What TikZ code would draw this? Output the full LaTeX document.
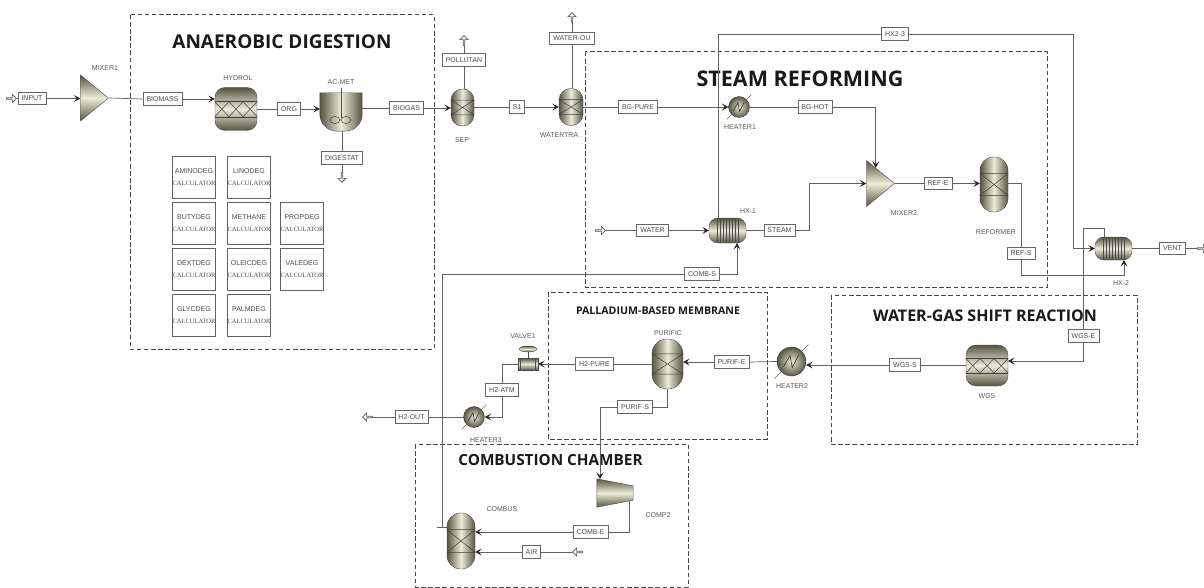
\documentclass[tikz,border=0pt]{standalone}
\usepackage{fontspec}
\setmainfont{Liberation Sans}
\newfontfamily\titlefont{Open Sans}
\newfontfamily\calcfont{Liberation Serif}
\usetikzlibrary{arrows.meta, positioning, calc, shapes.geometric, shapes.arrows}
\definecolor{olivedark}{RGB}{84,84,64}
\definecolor{olivelight}{RGB}{236,236,216}
\tikzset{
  stream/.style={draw=black!62,line width=.7pt},
  zonebox/.style={draw=black!72,line width=1pt,dash pattern=on 4.5pt off 2.6pt},
  zonetitle/.style={font=\titlefont\bfseries,text=black!90,inner sep=0pt},
  streamlbl/.style={draw=black!60,fill=white,text=black!70,font=\fontsize{7}{7}\selectfont,
    inner xsep=3.5pt,inner ysep=0pt,minimum height=12.5pt,line width=.7pt},
  tag/.style={text=black!65,font=\fontsize{7}{7}\selectfont,inner sep=0pt},
  calcbox/.style={draw=black!62,minimum width=42pt,minimum height=42pt,inner sep=0pt,align=center,
    text=black!70,font=\fontsize{7}{7}\selectfont,line width=.7pt},
  portarrow/.style={single arrow,draw=black!65,fill=white,minimum height=10pt,minimum width=8pt,
    single arrow head extend=1.5pt,single arrow head indent=0pt,inner sep=0pt,line width=.7pt},
  sideshade/.style={left color=olivedark,right color=olivedark,middle color=olivelight,draw=black!70,inner sep=0pt},
  topshade/.style={top color=olivedark,bottom color=olivedark,middle color=olivelight,draw=black!70,inner sep=0pt},
  crossbed/.style={sideshade},
  zigbed/.style={topshade,rounded corners=10pt},
  tubebundle/.style={topshade,rounded corners=9pt},
  heaterball/.style={circle,inner color=olivelight,outer color=olivedark,draw=black!70,inner sep=0pt},
  mixertri/.style={isosceles triangle,isosceles triangle stretches,topshade,minimum width=46pt,minimum height=28pt},
  valvebody/.style={topshade,minimum width=20pt,minimum height=12pt},
  unitbox/.style={shift={(#1.north west)},x={($(#1.north east)-(#1.north west)$)},
    y={($(#1.south west)-(#1.north west)$)}},
}
\newcommand{\heaterzig}[1]{
  \begin{scope}[shift={(#1.center)},x={($(#1.east)-(#1.center)$)},y={($(#1.south)-(#1.center)$)}]
    \draw[black!80,line width=.6pt] (-.55,.35)--(-.1,-.4)--(.05,.4)--(.5,-.45);
    \draw[black!60,line width=.5pt] (-1.15,1.15)--(-.7,.7) (.7,-.7)--(1.15,-1.15);
  \end{scope}}
\newcommand{\crossmark}[1]{
  \begin{scope}[unitbox=#1]
    \draw[black!75,line width=.5pt] (0,.3)--(1,.3) (0,.7)--(1,.7) (0,.3)--(1,.7) (1,.3)--(0,.7);
  \end{scope}}
\newcommand{\zigmark}[1]{
  \begin{scope}[unitbox=#1]
    \draw[black!75,line width=.5pt] (0,.33)--(1,.33) (0,.68)--(1,.68);
    \foreach \k in {0,1,2}
      \draw[black!75,line width=.5pt] (\k/3,.33)--(\k/3+1/3,.68) (\k/3,.68)--(\k/3+1/3,.33);
  \end{scope}}
\newcommand{\tubemark}[1]{
  \begin{scope}[unitbox=#1]
    \foreach \k in {.22,.3,...,.8}
      \draw[black!70,line width=.4pt] (\k,.06)--(\k,.94);
  \end{scope}}

\begin{document}
\begin{tikzpicture}[x=1pt,y=-1pt,>={Stealth[length=6.5pt,width=7pt,inset=3pt,color=black!85]}]
  \useasboundingbox (0,0) rectangle (1204,588);
  \draw[zonebox] (130,15) rectangle (434,349);
  \draw[zonebox] (585,52) rectangle (1047,287);
  \draw[zonebox] (548,292) rectangle (767,439);
  \draw[zonebox] (831,295) rectangle (1137,444);
  \draw[zonebox] (415,444) rectangle (688,587);
  \node[zonetitle,font=\titlefont\bfseries\fontsize{19}{21}\selectfont] (anaerobic) at (282,42){ANAEROBIC DIGESTION};
  \node[zonetitle,font=\titlefont\bfseries\fontsize{21.5}{23}\selectfont] (steamref) at (800,79){STEAM REFORMING};
  \node[zonetitle,font=\titlefont\bfseries\fontsize{10.6}{12}\selectfont] (palladium) at (658,310.5){PALLADIUM-BASED MEMBRANE};
  \node[zonetitle,font=\titlefont\bfseries\fontsize{16}{18}\selectfont] (watergas) at (985,316){WATER-GAS SHIFT REACTION};
  \node[zonetitle,font=\titlefont\bfseries\fontsize{15.3}{17}\selectfont] (combtitle) at (550.5,460){COMBUSTION CHAMBER};

  \foreach \x/\y/\nm in {194/177/AMINODEG,249/177/LINODEG,194/223/BUTYDEG,249/223/METHANE,302/223/PROPDEG,
    194/269/DEXTDEG,249/269/OLEICDEG,302/269/VALEDEG,194/315/GLYCDEG,249/315/PALMDEG}
    \node[calcbox] (\nm) at (\x,\y){\nm\\[5pt]{\calcfont\fontsize{6.5}{6}\selectfont CALCULATOR}};

  \foreach \x/\y/\nm/\lbl in {32/98.5/inputlbl/INPUT,162.5/99/biomasslbl/BIOMASS,289/109/orglbl/ORG,
    406.5/108/biogaslbl/BIOGAS,342/158/digestlbl/DIGESTAT,464/60/polllbl/POLLUTAN,517/107/sonelbl/S1,
    572/38.5/wateroulbl/WATER-OU,638/107/bgpurelbl/BG-PURE,815/107/bghotlbl/BG-HOT,652.5/230.5/waterlbl/WATER,
    779.5/230.5/steamlbl/STEAM,702/274/combslbl/COMB-S,938/183.5/refelbl/REF-E,1021/253.5/refslbl/REF-S,
    895/34/hxtwolbl/HX2-3,1172.5/248.5/ventlbl/VENT,1083.5/336/wgselbl/WGS-E,905/365/wgsslbl/WGS-S,
    731.5/362/purifelbl/PURIF-E,594.5/364/htwopurelbl/H2-PURE,635/407/purifslbl/PURIF-S,502/390/htwoatmlbl/H2-ATM,
    411.5/417/htwooutlbl/H2-OUT,590.5/532/comblbl/COMB-E,531.5/552/airlbl/AIR}
    \node[streamlbl] (\nm) at (\x,\y){\lbl};

  \foreach \x/\y/\nm/\lbl in {105/68/mixeronetag/MIXER1,238/78/hydroltag/HYDROL,341/82/acmettag/AC-MET,
    462/140/septag/SEP,559/135/watertag/WATERTRA,740/127/heateronetag/HEATER1,748/211/hxonetag/HX-1,
    904/213/mixertwotag/MIXER2,996/232/reformertag/REFORMER,1121/283/hxtwotag/HX-2,987/396/wgstag/WGS,
    792/386/heatertwotag/HEATER2,668/333/purifictag/PURIFIC,523/336/valvetag/VALVE1,486/440/heaterthreetag/HEATER3,
    502/509/combustag/COMBUS,658/515/comptag/COMP2}
    \node[tag] (\nm) at (\x,\y){\lbl};

  \foreach \x/\y/\nm/\rot in {11/98.5/inarrow/0,342/177/digestarrow/270,464/41/pollarrow/90,572/18/wateroutarrow/90,
    600/230.5/waterarrow/0,1202/248.5/ventarrow/0,368/417/htwoarrow/180,578/552/airarrow/180}
    \node[portarrow,shape border rotate=\rot] (\nm) at (\x,\y){};

  \node[mixertri,anchor=apex] (mixer1) at (109,98){};
  \node[mixertri,anchor=apex] (mixer2) at (895,183.5){};
  \node[zigbed,minimum width=42pt,minimum height=43pt] (hydrol) at (236,109){};
  \node[zigbed,minimum width=42pt,minimum height=41pt] (wgs) at (987,365.5){};
  \zigmark{hydrol}
  \zigmark{wgs}
  \node[inner sep=0pt,minimum width=42pt,minimum height=38pt] (acmet) at (341,112){};
  \draw[sideshade] (acmet.north west) -- (acmet.north east) [rounded corners=17pt] -- (acmet.south east) -- (acmet.south west) [sharp corners] -- cycle;
  \draw[black!70,line width=.5pt] (acmet.north) ++(0,-5) -- ++(0,30);
  \draw[black!75,line width=.5pt] (acmet.center) ++(-6,8) ellipse (5pt and 3.5pt) ++(11,0) ellipse (5pt and 3.5pt);
  \node[crossbed,minimum width=23pt,minimum height=37pt,rounded corners=11pt] (sep) at (462.5,107.5){};
  \node[crossbed,minimum width=24pt,minimum height=37pt,rounded corners=11.5pt] (watertra) at (571,107){};
  \node[crossbed,minimum width=28pt,minimum height=55pt,rounded corners=13.5pt] (reformer) at (994,184.5){};
  \node[crossbed,minimum width=28pt,minimum height=56pt,rounded corners=13.5pt] (combus) at (461,541){};
  \node[crossbed,minimum width=31pt,minimum height=50pt,rounded corners=15pt] (purific) at (667.5,364){};
  \crossmark{sep}
  \crossmark{watertra}
  \crossmark{reformer}
  \crossmark{combus}
  \crossmark{purific}
  \node[tubebundle,minimum width=37pt,minimum height=25pt] (hx1) at (727.5,230.5){};
  \node[tubebundle,minimum width=37pt,minimum height=23pt] (hx2) at (1113.5,248.5){};
  \tubemark{hx1}
  \tubemark{hx2}
  \node[heaterball,minimum size=21pt] (heater1) at (739,107){};
  \node[heaterball,minimum size=29pt] (heater2) at (791.5,361.5){};
  \node[heaterball,minimum size=21pt] (heater3) at (474,417){};
  \heaterzig{heater1}
  \heaterzig{heater2}
  \heaterzig{heater3}
  \node[inner sep=0pt,minimum width=36pt,minimum height=28pt] (comp2) at (615,493){};
  \draw[topshade] (comp2.north west) -- ([yshift=-7pt]comp2.north east) -- ([yshift=7pt]comp2.south east) -- (comp2.south west) -- cycle;
  \node[valvebody] (valve1) at (528,364){};
  \draw[black!70,line width=.7pt] (valve1.north) -- ++(0,-6);
  \draw[black!70,line width=.7pt] (valve1.north west) ++(2.5,0) -- ++(0,12) (valve1.north east) ++(-2.5,0) -- ++(0,12);
  \node[topshade,ellipse,minimum width=18pt,minimum height=6pt] (bonnet) at (528,349){};

  \coordinate (mixerin) at ($(mixer2.left corner)!0.33!(mixer2.apex)$);
  \coordinate (hxtwobot) at (1124,260);
  \coordinate (refturn) at (1124,275);
  \coordinate (hxtwotop) at (1104,237);
  \coordinate (hxtwoturn) at (1073,248.5);
  \coordinate (wgsin) at (1008,361);
  \coordinate (compin) at (600,479);
  \coordinate (compout) at (629,501);
  \coordinate (hxonetop) at (718,218);
  \coordinate (hxonebot) at (737,243);
  \coordinate (combusout) at (447,527);
  \coordinate (combustick) at (437,527);
  \coordinate (combusrise) at (442,527);

  \draw[stream] (inarrow) -- (inputlbl);
  \draw[stream,->] (inputlbl.east) -- (inputlbl.east -| mixer1.lower side);
  \draw[stream] (mixer1.apex) -- (biomasslbl.west);
  \draw[stream,->] (biomasslbl.east) -- (biomasslbl.east -| hydrol.west);
  \draw[stream] (hydrol.east) -- (orglbl.west);
  \draw[stream,->] (orglbl.east) -- (orglbl.east -| acmet.west);
  \draw[stream] (acmet.east |- biogaslbl) -- (biogaslbl.west);
  \draw[stream,->] (biogaslbl.east) -- (biogaslbl.east -| sep.west);
  \draw[stream] (digestlbl |- acmet.south) -- (digestlbl.north);
  \draw[stream] (digestlbl.south) -- (digestarrow);
  \draw[stream] (polllbl |- sep.north) -- (polllbl.south);
  \draw[stream] (polllbl.north) -- (pollarrow);
  \draw[stream] (sep.east |- sonelbl) -- (sonelbl.west);
  \draw[stream,->] (sonelbl.east) -- (sonelbl.east -| watertra.west);
  \draw[stream] (wateroulbl |- watertra.north) -- (wateroulbl.south);
  \draw[stream] (wateroulbl.north) -- (wateroutarrow);
  \draw[stream] (watertra.east) -- (bgpurelbl.west);
  \draw[stream,->] (bgpurelbl.east) -- (heater1.west);
  \draw[stream] (heater1.east) -- (bghotlbl.west);
  \draw[stream,->] (bghotlbl.east) -| (mixerin);
  \draw[stream] (waterarrow) -- (waterlbl);
  \draw[stream,->] (waterlbl.east) -- (hx1.west);
  \draw[stream] (hx1.east) -- (steamlbl.west);
  \draw[stream,->] (steamlbl.east) -- ++(14,0) |- (mixer2.lower side);
  \draw[stream] (mixer2.apex) -- (refelbl.west);
  \draw[stream,->] (refelbl.east) -- (refelbl.east -| reformer.west);
  \draw[stream] (reformer.east |- refelbl) -| (refslbl.north);
  \draw[stream,->] (refslbl.south) |- (refturn) -- (hxtwobot);
  \draw[stream] (hxonetop) |- (hxtwolbl.west);
  \draw[stream,->] (hxtwolbl.east) -| (hxtwoturn) -- (hx2.west);
  \draw[stream] (hx2.east) -- (ventlbl.west);
  \draw[stream] (ventlbl.east) -- (ventarrow);
  \draw[stream] (hxtwotop) -- ++(0,-9) -| (wgselbl.north);
  \draw[stream,->] (wgselbl.south) |- (wgsin);
  \draw[stream] (wgs.west |- wgsslbl) -- (wgsslbl.east);
  \draw[stream,->] (wgsslbl.west) -- (wgsslbl.west -| heater2.east);
  \draw[stream] (heater2.west) -- (purifelbl.east);
  \draw[stream,->] (purifelbl.west) -- (purifelbl.west -| purific.east);
  \draw[stream] (purific.west |- htwopurelbl) -- (htwopurelbl.east);
  \draw[stream,->] (htwopurelbl.west) -- (valve1.east);
  \draw[stream] (valve1.west) -| (htwoatmlbl.north);
  \draw[stream,->] (htwoatmlbl.south) |- (heater3.east);
  \draw[stream] (heater3.west) -- (htwooutlbl.east);
  \draw[stream] (htwooutlbl.west) -- (htwoarrow);
  \draw[stream] (purific.south) |- (purifslbl.east);
  \draw[stream,->] (purifslbl.west) -| (compin);
  \draw[stream] (compout) |- (comblbl.east);
  \draw[stream,->] (comblbl.west) -- (comblbl.west -| combus.east);
  \draw[stream] (airarrow) -- (airlbl.east);
  \draw[stream,->] (airlbl.west) -- (airlbl.west -| combus.east);
  \draw[stream] (combusout) -- (combustick);
  \draw[stream] (combusrise) |- (combslbl.west);
  \draw[stream,->] (combslbl.east) -| (hxonebot);
\end{tikzpicture}
\end{document}
